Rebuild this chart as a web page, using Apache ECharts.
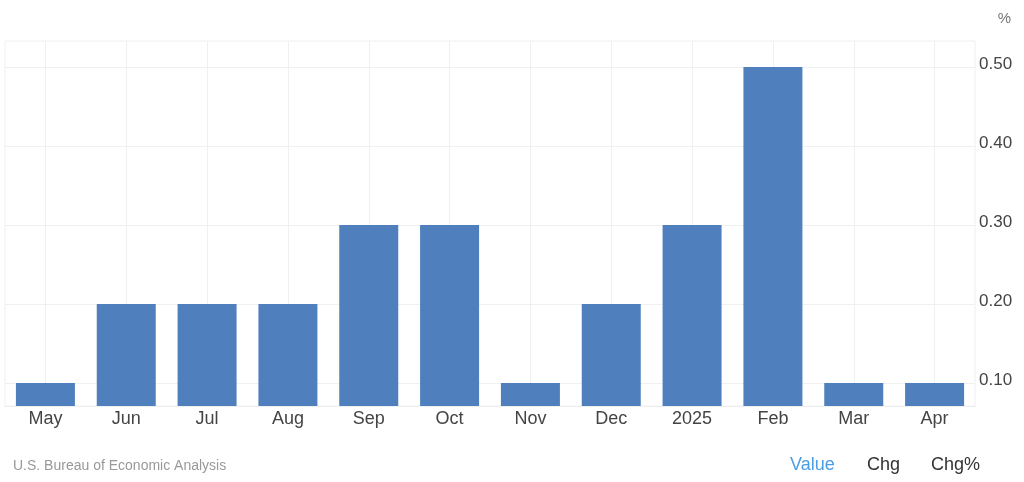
<!DOCTYPE html>
<html>
<head>
<meta charset="utf-8">
<script src="https://cdn.jsdelivr.net/npm/echarts@6/dist/echarts.min.js"></script>
<style>html,body{margin:0;padding:0;background:#fff;}#c{width:1024px;height:482px;}</style>
</head>
<body>
<div id="c"></div>
<script>
const categories = ['May','Jun','Jul','Aug','Sep','Oct','Nov','Dec','2025','Feb','Mar','Apr'];
const values = [0.1,0.2,0.2,0.2,0.3,0.3,0.1,0.2,0.3,0.5,0.1,0.1];
const yTicks = [0.1,0.2,0.3,0.4,0.5];
const unitLabel = '%';
const sourceText = 'U.S. Bureau of Economic Analysis';
const tabs = ['Value','Chg','Chg%'];

const font = '"Liberation Sans", Arial, sans-serif';
const chart = echarts.init(document.getElementById('c'), null, {renderer:'canvas'});
chart.setOption({
  animation: false,
  backgroundColor: '#fff',
  title: [
    {text: unitLabel, right: 13, top: 11, padding: 0, textStyle:{fontFamily:font, fontSize:15, fontWeight:'normal', color:'#777'}},
    {text: sourceText, left: 13, top: 459, padding: 0, textStyle:{fontFamily:font, fontSize:14, fontWeight:'normal', color:'#999'}},
    {text: tabs[0], left: 790, top: 456, padding: 0, textStyle:{fontFamily:font, fontSize:18, fontWeight:'normal', color:'#4a9ee6'}},
    {text: tabs[1], left: 867, top: 456, padding: 0, textStyle:{fontFamily:font, fontSize:18, fontWeight:'normal', color:'#333'}},
    {text: tabs[2], left: 931, top: 456, padding: 0, textStyle:{fontFamily:font, fontSize:18, fontWeight:'normal', color:'#333'}}
  ],
  grid: {left: 5, right: 49, top: 41, bottom: 76, show: true, borderColor: '#f0f0f0', borderWidth: 1, containLabel: false},
  xAxis: {
    type: 'category',
    data: categories,
    axisLine: {show: true, lineStyle: {color: '#eeeeee'}},
    axisTick: {show: false, alignWithLabel: true},
    splitLine: {show: true, alignWithLabel: true, lineStyle: {color: '#f0f0f0'}},
    axisLabel: {fontFamily: font, fontSize: 18, color: '#444', margin: 4}
  },
  yAxis: {
    type: 'value',
    position: 'right',
    min: 0.071,
    max: 0.533,
    axisLine: {show: false},
    axisTick: {show: false, customValues: yTicks},
    splitLine: {show: true, lineStyle: {color: '#f0f0f0'}},
    axisLabel: {customValues: yTicks, fontFamily: font, fontSize: 17, color: '#444', margin: 4, verticalAlign: 'bottom', lineHeight: 6,
      formatter: v => v.toFixed(2)}
  },
  series: [{
    type: 'bar',
    data: values,
    barCategoryGap: '27%',
    itemStyle: {color: '#4f80bd'}
  }]
});
</script>
</body>
</html>
